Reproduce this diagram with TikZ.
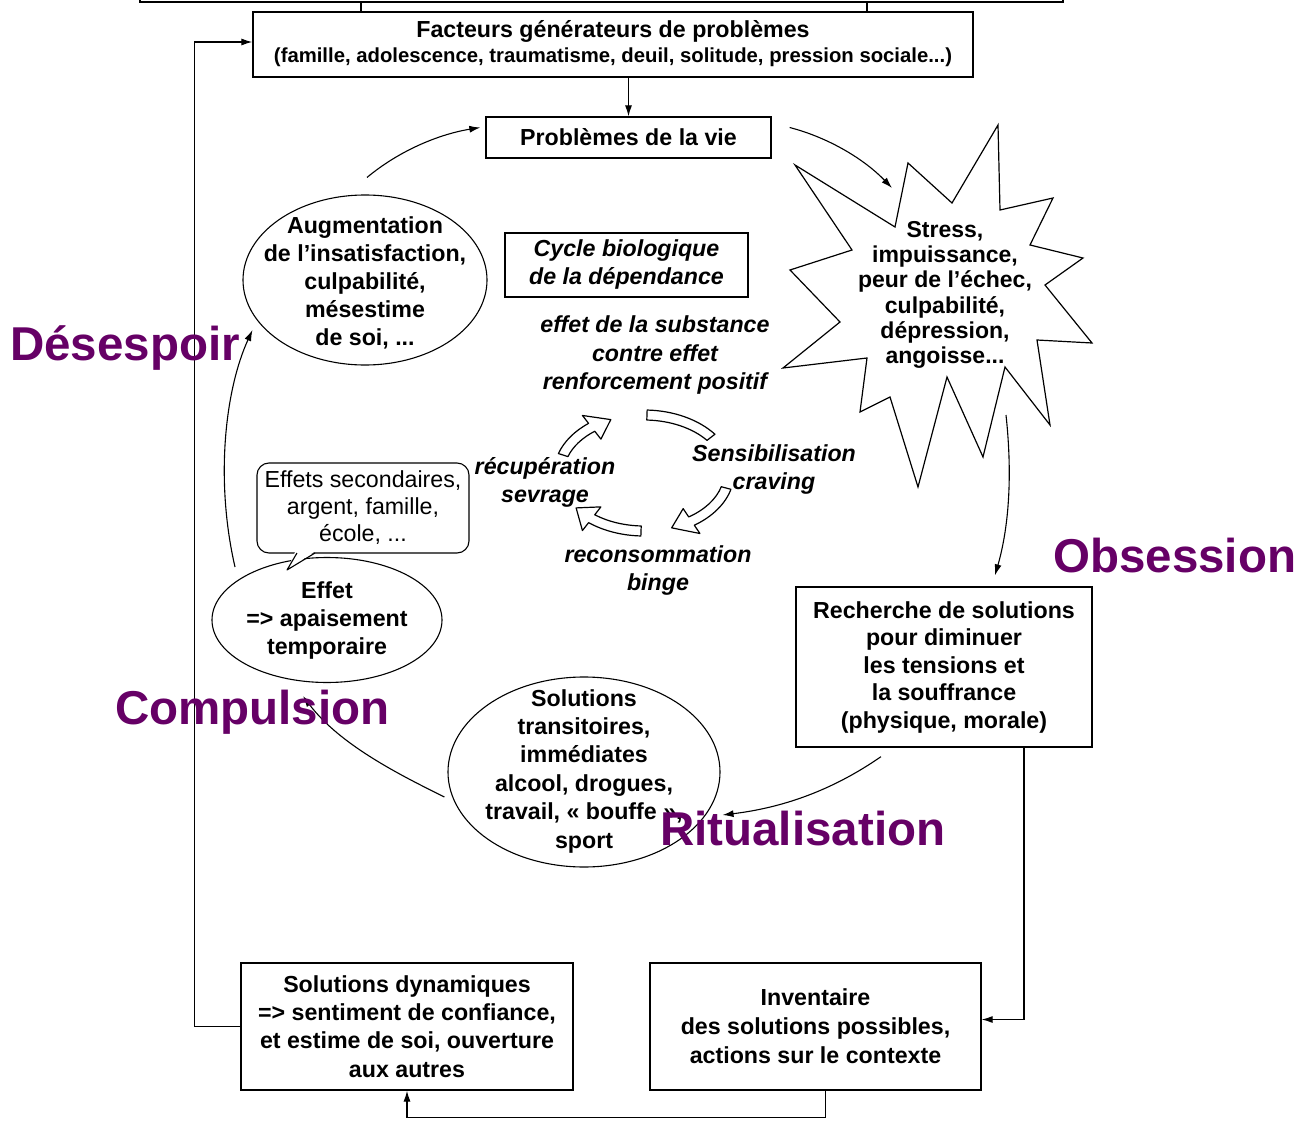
\documentclass[tikz,border=0pt]{standalone}
\usepackage{fontspec}
\setmainfont{Liberation Sans}
\usetikzlibrary{arrows.meta,calc,shapes.geometric}
\definecolor{purp}{RGB}{102,0,102}
\begin{document}
\begin{tikzpicture}[x=1pt,y=-1pt,
  txt/.style={font=\fontsize{23.2}{27.5}\selectfont\bfseries, align=center, inner sep=0pt},
  itx/.style={font=\fontsize{23.2}{28}\selectfont\bfseries\itshape, align=center, inner sep=0pt},
  box/.style={txt, draw, line width=1.3pt},
  ellbox/.style={draw, ellipse, line width=1.1pt, inner sep=0pt},
  arr/.style={line width=1.1pt, -{Latex[length=11pt,width=7pt]}},
  con/.style={line width=1.1pt},
  big/.style={font=\fontsize{47.5}{50}\selectfont\bfseries, text=purp, inner sep=0pt, anchor=base west},
  cycarr/.style={line width=1.2pt, fill=white, line join=round}]

\useasboundingbox (0,0) rectangle (1302,1121);
\fill[white] (0,0) rectangle (1302,1121);

% fragment of frame at the top
\draw[line width=1.6pt] (140,-3) -- (140,2) -- (1063,2) -- (1063,-3);
\draw[con] (361,2) -- (361,12);
\draw[con] (867,2) -- (867,12);

% boxes
\node[box, minimum width=720pt, minimum height=65pt] (fact) at (613,44.5) {};
\node[txt] (factA) at (613,31) {Facteurs générateurs de problèmes};
\node[txt, font=\fontsize{20.3}{24}\selectfont\bfseries] (factB) at (613,57) {(famille, adolescence, traumatisme, deuil, solitude, pression sociale...)};

\node[box, minimum width=285pt, minimum height=41pt] (prob) at (628.5,137.5) {Problèmes de la vie};

\node[draw, line width=1.3pt, itx, minimum width=243pt, minimum height=64pt] (cyclebox) at (626.5,265) {Cycle biologique\\de la dépendance};

\node[box, minimum width=296pt, minimum height=160pt] (rech) at (944,667) {Recherche de solutions\\pour diminuer\\les tensions et\\la souffrance\\(physique, morale)};

\node[box, minimum width=332pt, minimum height=127pt, font=\fontsize{23.2}{28.3}\selectfont\bfseries] (dyn) at (407,1026.5) {Solutions dynamiques\\=> sentiment de confiance,\\et estime de soi, ouverture\\aux autres};

\node[box, minimum width=331pt, minimum height=127pt, font=\fontsize{23.2}{29}\selectfont\bfseries] (inv) at (815.5,1026.5) {Inventaire\\des solutions possibles,\\actions sur le contexte};

% ellipses
\node[ellbox, minimum width=244pt, minimum height=170pt] (aug) at (365,280) {};
\node[txt, font=\fontsize{23.2}{28}\selectfont\bfseries] (augT) at (365,283) {Augmentation\\de l’insatisfaction,\\culpabilité,\\mésestime\\de soi, ...};

\node[ellbox, minimum width=230pt, minimum height=125pt] (eff) at (327,620) {};
\node[txt, font=\fontsize{23.2}{28}\selectfont\bfseries] (effT) at (327,620) {Effet\\=> apaisement\\temporaire};

\node[ellbox, minimum width=272pt, minimum height=190pt] (trans) at (584,772) {};
\node[txt, font=\fontsize{23.2}{28.4}\selectfont\bfseries] (transT) at (584,771) {Solutions\\transitoires,\\immédiates\\alcool, drogues,\\travail, « bouffe »,\\sport};

% callout
\node[draw, line width=1.1pt, rounded corners=12pt, minimum width=212pt, minimum height=90pt, txt, font=\fontsize{23.2}{27}\selectfont] (sec) at (363,508) {Effets secondaires,\\argent, famille,\\école, ...};
\fill[white] (296,550) -- (287,570) -- (317,550) -- cycle;
\draw[line width=1.1pt, line join=round] (297,553) -- (287,570) -- (315,553);

% starburst
\draw[line width=1.2pt, line join=miter, fill=white]
  (795,165) -- (895,227) -- (908,163) -- (952,203) -- (998,125) -- (1000,210)
  -- (1053,198) -- (1030,245) -- (1083,258) -- (1045,285) -- (1092,343)
  -- (1037,340) -- (1050,425) -- (1005,367) -- (983,457) -- (947,377)
  -- (918,487) -- (890,397) -- (860,412) -- (867,358) -- (783,368)
  -- (840,322) -- (790,270) -- (852,250) -- cycle;
\node[txt, font=\fontsize{23}{25.2}\selectfont\bfseries] (stress) at (945,295) {Stress,\\impuissance,\\peur de l’échec,\\culpabilité,\\dépression,\\angoisse...};
\coordinate (starin) at (892,188);
\coordinate (starout) at (1006,415);

% biological cycle arrows
\begin{scope}[shift={(644,473)}]
  \draw[cycarr] (198:90 and 63) arc[start angle=198, end angle=232, x radius=90, y radius=63]
    -- (232:100 and 73) -- (247:85 and 58) -- (232:70 and 43) -- (232:80 and 53)
    arc[start angle=232, end angle=198, x radius=80, y radius=53] -- cycle;
  \draw[cycarr] (272:90 and 63) arc[start angle=272, end angle=322, x radius=90, y radius=63]
    -- (322:80 and 53) arc[start angle=322, end angle=272, x radius=80, y radius=53] -- cycle;
  \draw[cycarr] (15:90 and 63) arc[start angle=15, end angle=56, x radius=90, y radius=63]
    -- (56:100 and 73) -- (71:85 and 58) -- (56:70 and 43) -- (56:80 and 53)
    arc[start angle=56, end angle=15, x radius=80, y radius=53] -- cycle;
  \draw[cycarr] (92:90 and 63) arc[start angle=92, end angle=128, x radius=90, y radius=63]
    -- (128:100 and 73) -- (143:85 and 58) -- (128:70 and 43) -- (128:80 and 53)
    arc[start angle=128, end angle=92, x radius=80, y radius=53] -- cycle;
\end{scope}

% italic labels of the cycle
\node[itx] (subst) at (655,355) {effet de la substance\\contre effet\\renforcement positif};
\node[itx] (sensi) at (774,469) {Sensibilisation\\craving};
\node[itx] (recon) at (658,570) {reconsommation\\binge};
\node[itx] (recup) at (545,482) {récupération\\sevrage};

% connectors
\draw[arr] (prob.north |- fact.south) -- (prob.north);
\draw[arr] ($(aug.north)+(2,-17)$) .. controls (400,150) and (440,134) .. ($(prob.west)+(-5,-10)$);
\draw[arr] ($(prob.east)+(18,-10)$) .. controls (830,138) and (865,160) .. (starin);
\draw[arr] (starout) .. controls (1013,480) and (1008,530) .. ($(rech.north)+(51,-11)$);
\draw[arr] ($(rech.south)+(-63,9)$) .. controls (830,792) and (780,808) .. ($(trans.east)+(2,43)$);
\draw[arr] ($(trans.west)+(-3,25)$) .. controls (400,775) and (340,745) .. ($(eff.south)+(-24,13)$);
\draw[arr] ($(eff.center)+(-92,-53)$) .. controls (215,480) and (225,390) .. ($(aug.west)+(10,50)$);
\draw[arr] (1024,0 |- rech.south) |- ([yshift=7pt]inv.east);
\draw[arr] ([xshift=10pt]inv.south) -- ++(0,27) -| (dyn.south);
\draw[arr] (dyn.west) -- ++(-46,0) |- ([yshift=2.5pt]fact.west);

% purple stage labels
\node[big] (desesp) at (10,360) {Désespoir};
\node[big] (obses) at (1053,572) {Obsession};
\node[big] (compul) at (115,724) {Compulsion};
\node[big] (ritual) at (660,845) {Ritualisation};
\end{tikzpicture}
\end{document}
